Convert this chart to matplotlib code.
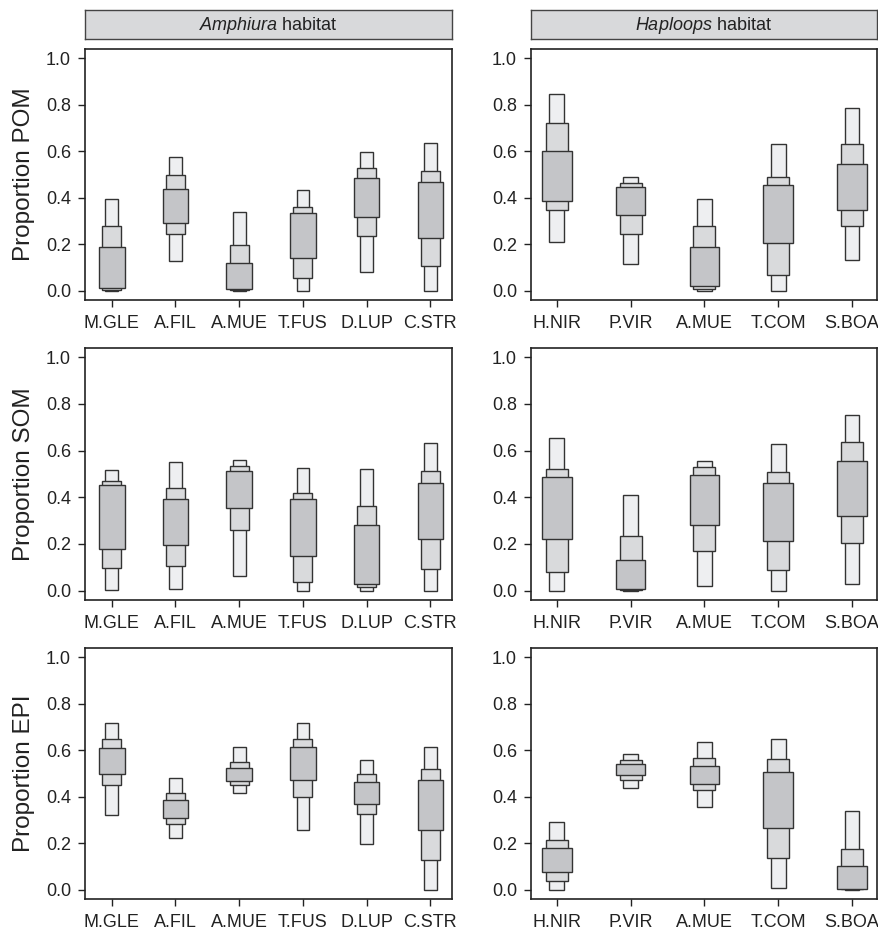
import matplotlib
matplotlib.use("Agg")
import matplotlib.pyplot as plt

plt.rcParams['font.family'] = ['Liberation Sans', 'DejaVu Sans']
plt.rcParams['mathtext.fontset'] = 'custom'
plt.rcParams['mathtext.it'] = 'Liberation Sans:italic'
plt.rcParams['mathtext.rm'] = 'Liberation Sans'

# categories
amph_taxa = ['M.GLE', 'A.FIL', 'A.MUE', 'T.FUS', 'D.LUP', 'C.STR']
hapl_taxa = ['H.NIR', 'P.VIR', 'A.MUE', 'T.COM', 'S.BOA']
sources = ['POM', 'SOM', 'EPI']
habitats = ['Amphiura', 'Haploops']

# per taxon: lo95, lo75, lo50, hi50, hi75, hi95
pom_amph = [[0.000, 0.004, 0.011, 0.190, 0.278, 0.394],
            [0.128, 0.244, 0.291, 0.437, 0.500, 0.574],
            [0.000, 0.003, 0.007, 0.119, 0.195, 0.338],
            [0.000, 0.054, 0.139, 0.334, 0.360, 0.433],
            [0.079, 0.235, 0.315, 0.486, 0.527, 0.595],
            [0.000, 0.105, 0.228, 0.467, 0.513, 0.635]]
pom_hapl = [[0.210, 0.348, 0.386, 0.603, 0.722, 0.845],
            [0.114, 0.245, 0.327, 0.446, 0.462, 0.491],
            [0.000, 0.007, 0.019, 0.186, 0.278, 0.394],
            [0.000, 0.069, 0.206, 0.455, 0.491, 0.630],
            [0.131, 0.279, 0.348, 0.544, 0.632, 0.786]]
som_amph = [[0.004, 0.098, 0.179, 0.452, 0.468, 0.517],
            [0.007, 0.104, 0.195, 0.391, 0.440, 0.551],
            [0.062, 0.258, 0.354, 0.512, 0.534, 0.560],
            [0.000, 0.039, 0.150, 0.392, 0.418, 0.525],
            [0.000, 0.016, 0.029, 0.281, 0.361, 0.521],
            [0.000, 0.094, 0.221, 0.462, 0.511, 0.632]]
som_hapl = [[0.000, 0.078, 0.220, 0.488, 0.522, 0.654],
            [0.000, 0.001, 0.006, 0.132, 0.235, 0.412],
            [0.022, 0.171, 0.281, 0.497, 0.530, 0.557],
            [0.000, 0.090, 0.214, 0.462, 0.507, 0.630],
            [0.028, 0.206, 0.319, 0.557, 0.636, 0.752]]
epi_amph = [[0.322, 0.449, 0.499, 0.610, 0.647, 0.719],
            [0.222, 0.283, 0.308, 0.384, 0.416, 0.480],
            [0.414, 0.451, 0.468, 0.523, 0.551, 0.616],
            [0.259, 0.399, 0.473, 0.612, 0.647, 0.717],
            [0.198, 0.325, 0.367, 0.464, 0.496, 0.558],
            [0.000, 0.128, 0.256, 0.474, 0.518, 0.613]]
epi_hapl = [[0.000, 0.037, 0.075, 0.178, 0.216, 0.292],
            [0.436, 0.472, 0.494, 0.542, 0.560, 0.583],
            [0.357, 0.429, 0.455, 0.534, 0.565, 0.635],
            [0.006, 0.138, 0.265, 0.506, 0.563, 0.649],
            [0.000, 0.001, 0.003, 0.101, 0.173, 0.338]]

panels = [[pom_amph, pom_hapl], [som_amph, som_hapl], [epi_amph, epi_hapl]]
taxa = [amph_taxa, hapl_taxa]

W, H = 879, 933
fig = plt.figure(figsize=(W / 100, H / 100), dpi=100)

def px_axes(x0, y0, x1, y1):
    return fig.add_axes([x0 / W, 1 - y1 / H, (x1 - x0) / W, (y1 - y0) / H])

col_x = [(85, 452), (531, 877)]
row_y = [(49, 300), (348, 600), (648, 899)]
xlims = [(0.58, 6.34), (0.65, 5.34)]

widths = [0.2, 0.3, 0.4]          # 95%, 75%, 50%
fills = ['#eeeff1', '#d9dadc', '#c4c5c8']
edge = '#333333'
txt = '#222222'

for r in range(3):
    for c in range(2):
        x0, x1 = col_x[c]
        y0, y1 = row_y[r]
        ax = px_axes(x0, y0, x1, y1)
        data = panels[r][c]
        xs = list(range(1, len(taxa[c]) + 1))
        for k in range(3):
            lo = [d[k] for d in data]
            hi = [d[5 - k] for d in data]
            ax.bar(xs, [h - l for h, l in zip(hi, lo)], bottom=lo, width=widths[k],
                   color=fills[k], edgecolor=edge, linewidth=1.0, zorder=2 + k)
        ax.set_xlim(*xlims[c])
        ax.set_ylim(-0.04, 1.04)
        ax.set_xticks(xs)
        ax.set_xticklabels(taxa[c])
        ax.set_yticks([0, 0.2, 0.4, 0.6, 0.8, 1.0])
        ax.set_yticklabels(['0.0', '0.2', '0.4', '0.6', '0.8', '1.0'])
        ax.tick_params(axis='x', direction='out', length=5, width=1, labelsize=13,
                       pad=6, colors=txt)
        ax.tick_params(axis='y', direction='out', length=5, width=1, labelsize=13,
                       pad=5, colors=txt)
        for s in ax.spines.values():
            s.set_color(txt)
            s.set_linewidth(1.2)
        if c == 0:
            fig.text(24 / W, 1 - (y0 + y1) / 2 / H, 'Proportion ' + sources[r],
                     rotation=90, ha='center', va='center', fontsize=17.5, color=txt)
        if r == 0:
            sx = px_axes(x0, 10, x1, 39)
            sx.set_facecolor('#d8d9db')
            sx.set_xticks([])
            sx.set_yticks([])
            for s in sx.spines.values():
                s.set_color('#444444')
                s.set_linewidth(1.0)
            sx.text(0.5, 0.45, r'$\it{' + habitats[c] + r'}$ habitat', ha='center',
                    va='center', fontsize=13, color=txt, transform=sx.transAxes)

fig.savefig('out.png', dpi=100)
